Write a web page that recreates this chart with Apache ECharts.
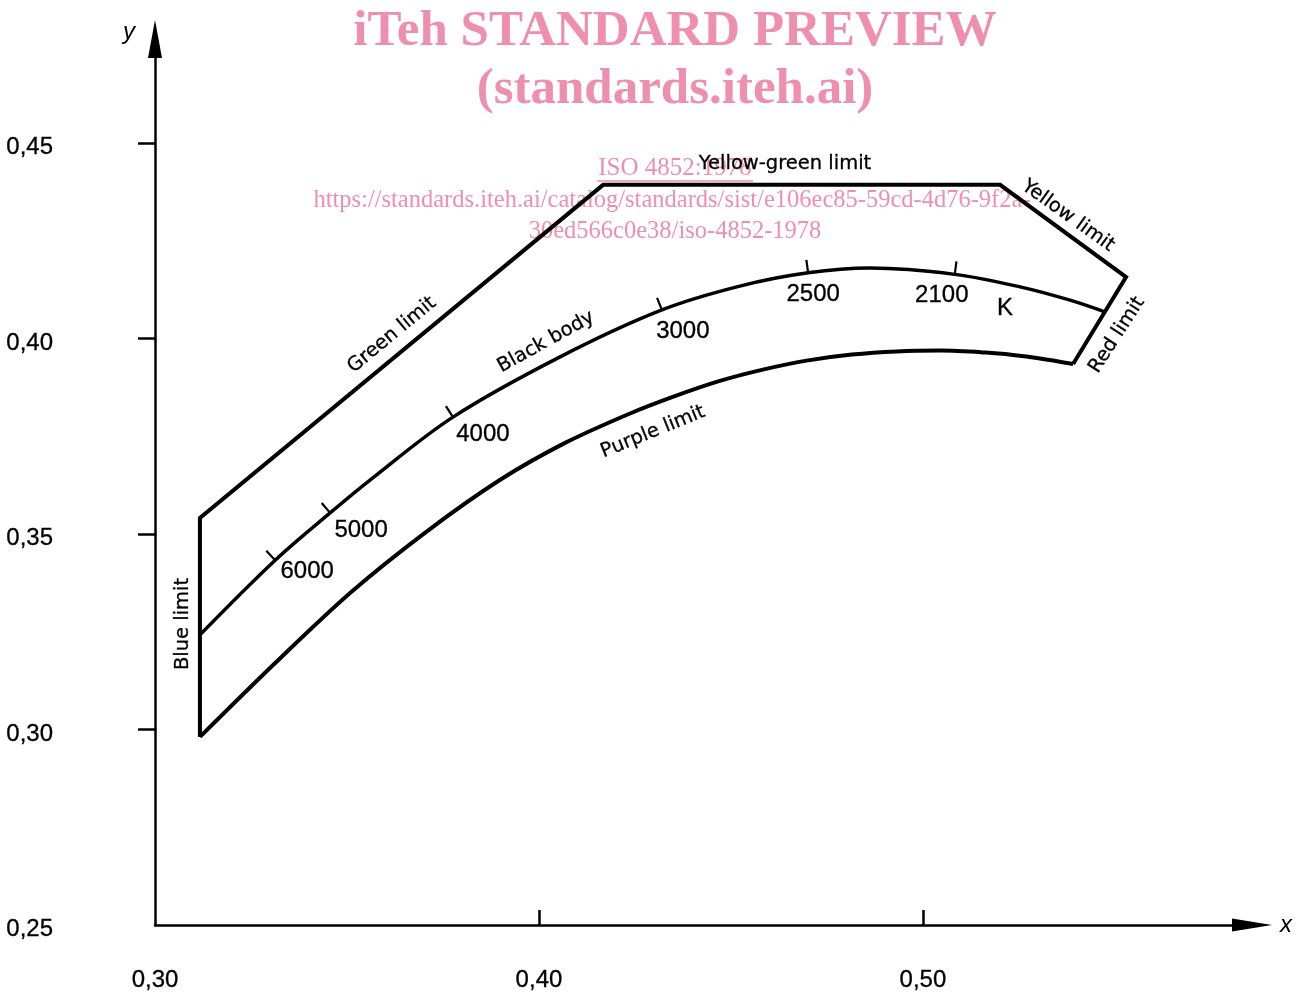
<!DOCTYPE html>
<html><head><meta charset="utf-8">
<script src="https://cdn.jsdelivr.net/npm/echarts@6/dist/echarts.min.js"></script>
<style>html,body{margin:0;padding:0;background:#fff}#c{width:1303px;height:992px}</style>
</head><body><div id="c"></div>
<script>
// ---- axis ticks / labels ----
const xLabelValues = [0.30, 0.40, 0.50];
const xTickValues = [0.40, 0.50];
const yLabelValues = [0.25, 0.30, 0.35, 0.40, 0.45];
const yTickValues = [0.30, 0.35, 0.40, 0.45];

// ---- straight limits: red -> yellow -> yellow-green -> green -> blue ----
const limitX = [0.5391, 0.5529, 0.5201, 0.4167, 0.3117, 0.3117];
const limitY = [0.3935, 0.4157, 0.4393, 0.4393, 0.3541, 0.2981];

// ---- purple limit (curve) ----
const purpleX = [0.3117, 0.3313, 0.3508, 0.3703, 0.3898, 0.4068, 0.4234, 0.4352, 0.4469, 0.4586, 0.4701, 0.4815, 0.4932, 0.5047, 0.5164, 0.5234, 0.5305, 0.5391];
const purpleY = [0.2981, 0.3170, 0.3349, 0.3503, 0.3638, 0.3733, 0.3807, 0.3852, 0.3891, 0.3921, 0.3944, 0.3959, 0.3967, 0.3969, 0.3964, 0.3958, 0.3949, 0.3935];

// ---- black body locus ----
const blackBodyX = [0.3117, 0.3313, 0.3456, 0.3560, 0.3776, 0.4055, 0.4320, 0.4523, 0.4701, 0.4862, 0.5083, 0.5253, 0.5383, 0.5474];
const blackBodyY = [0.3242, 0.3433, 0.3554, 0.3638, 0.3799, 0.3953, 0.4073, 0.4134, 0.4168, 0.4180, 0.4164, 0.4132, 0.4098, 0.4068];

// ---- colour temperatures on the locus ----
const tempK = [6000, 5000, 4000, 3000, 2500, 2100];
const tempX = [0.3313, 0.3456, 0.3776, 0.4320, 0.4701, 0.5083];
const tempY = [0.3433, 0.3554, 0.3799, 0.4073, 0.4168, 0.4164];

// layout (pixels) for temperature labels relative to their tick
const tempLabelOffset = [[32, 11], [31, 17], [30, 17], [21, 21], [5, 22], [-13, 21]];

const pair = (xs, ys) => xs.map((v, i) => [v, ys[i]]);
const fmt = v => v.toFixed(2).replace('.', ',');
const INK = '#000';
const PINK = '#ef8fae';
const deg = d => d * Math.PI / 180;

const limitLabels = [
  { text: 'Blue limit', x: 183, y: 624, r: 90 },
  { text: 'Green limit', x: 392, y: 335, r: 39.5 },
  { text: 'Black body', x: 546, y: 342, r: 29 },
  { text: 'Yellow-green limit', x: 785, y: 164, r: 0 },
  { text: 'Yellow limit', x: 1068, y: 216, r: -35.5 },
  { text: 'Red limit', x: 1117, y: 335, r: 57 },
  { text: 'Purple limit', x: 653, y: 432, r: 22 }
];

const graphics = [];
// watermark
graphics.push({ type: 'text', x: 675, y: 32, z: 1, style: { text: 'iTeh STANDARD PREVIEW', fill: PINK, fontFamily: '"Liberation Serif"', fontWeight: 'bold', fontSize: 51, align: 'center', verticalAlign: 'middle' } });
graphics.push({ type: 'text', x: 675, y: 90, z: 1, style: { text: '(standards.iteh.ai)', fill: PINK, fontFamily: '"Liberation Serif"', fontWeight: 'bold', fontSize: 51, align: 'center', verticalAlign: 'middle' } });
graphics.push({ type: 'text', x: 675, y: 168, z: 1, style: { text: 'ISO 4852:1978', fill: PINK, fontFamily: '"Liberation Serif"', fontSize: 25, align: 'center', verticalAlign: 'middle' } });
graphics.push({ type: 'line', z: 1, shape: { x1: 597, y1: 181, x2: 753, y2: 181 }, style: { stroke: PINK, lineWidth: 1.5 } });
graphics.push({ type: 'text', x: 672, y: 201, z: 1, style: { text: 'https://standards.iteh.ai/catalog/standards/sist/e106ec85-59cd-4d76-9f2a-', fill: PINK, fontFamily: '"Liberation Serif"', fontSize: 24.5, align: 'center', verticalAlign: 'middle' } });
graphics.push({ type: 'text', x: 675, y: 232, z: 1, style: { text: '30ed566c0e38/iso-4852-1978', fill: PINK, fontFamily: '"Liberation Serif"', fontSize: 24.5, align: 'center', verticalAlign: 'middle' } });
// limit labels
limitLabels.forEach(l => graphics.push({
  type: 'text', x: l.x, y: l.y, rotation: deg(l.r), z: 10,
  style: { text: l.text, fill: INK, fontFamily: '"DejaVu Sans"', fontSize: 19.5, align: 'center', verticalAlign: 'middle', stroke: INK, lineWidth: 0.3 }
}));
graphics.push({ type: 'text', x: 1005, y: 308, z: 10, style: { text: 'K', fill: INK, fontFamily: '"Liberation Sans"', fontSize: 24, align: 'center', verticalAlign: 'middle', stroke: INK, lineWidth: 0.3 } });

const chart = echarts.init(document.getElementById('c'));
chart.setOption({
  animation: false,
  backgroundColor: '#fff',
  grid: { left: 155, right: 51, top: 39, bottom: 67, outerBoundsMode: 'none', containLabel: false },
  xAxis: {
    type: 'value', min: 0.30, max: 0.5857,
    name: 'x', nameLocation: 'end', nameGap: 28,
    nameTextStyle: { fontFamily: '"Liberation Sans"', fontStyle: 'italic', fontSize: 24, color: INK, verticalAlign: 'middle' },
    axisLine: { show: true, symbol: ['none', 'triangle'], symbolSize: [13, 40], lineStyle: { color: INK, width: 2.5 } },
    axisTick: { show: true, inside: true, length: 15, customValues: xTickValues, lineStyle: { color: INK, width: 2.5 } },
    axisLabel: { show: true, customValues: xLabelValues, formatter: fmt, margin: 43, color: INK, fontFamily: '"Liberation Sans"', fontSize: 24, textBorderColor: INK, textBorderWidth: 0.3 },
    splitLine: { show: false }
  },
  yAxis: {
    type: 'value', min: 0.25, max: 0.4766,
    name: 'y', nameLocation: 'end', nameGap: 7,
    nameTextStyle: { fontFamily: '"Liberation Sans"', fontStyle: 'italic', fontSize: 24, color: INK, align: 'right', verticalAlign: 'middle', padding: [0, 20, 0, 0] },
    axisLine: { show: true, symbol: ['none', 'triangle'], symbolSize: [14, 38], lineStyle: { color: INK, width: 2.5 } },
    axisTick: { show: true, inside: false, length: 17, customValues: yTickValues, lineStyle: { color: INK, width: 2.5 } },
    axisLabel: { show: true, customValues: yLabelValues, formatter: fmt, margin: 102, color: INK, fontFamily: '"Liberation Sans"', fontSize: 24, verticalAlign: 'top', lineHeight: 9, textBorderColor: INK, textBorderWidth: 0.3 },
    splitLine: { show: false }
  },
  graphic: graphics,
  series: [
    { name: 'Limits', type: 'line', data: pair(limitX, limitY), symbol: 'none', z: 5,
      lineStyle: { color: INK, width: 4, join: 'miter' } },
    { name: 'Purple limit', type: 'line', data: pair(purpleX, purpleY), symbol: 'none', smooth: 0.3, z: 5,
      lineStyle: { color: INK, width: 4 } },
    { name: 'Black body', type: 'line', data: pair(blackBodyX, blackBodyY), symbol: 'none', smooth: 0.35, z: 5,
      lineStyle: { color: INK, width: 3.5 } },
    { name: 'Temperatures', type: 'custom', coordinateSystem: 'cartesian2d', z: 6,
      data: tempK.map((k, i) => [tempX[i], tempY[i], k]),
      encode: { x: 0, y: 1 },
      renderItem: function (params, api) {
        const i = params.dataIndex;
        const x = api.value(0), y = api.value(1);
        const p = api.coord([x, y]);
        let k = 0, best = Infinity;
        blackBodyX.forEach((bx, j) => { const d = Math.abs(bx - x); if (d < best) { best = d; k = j; } });
        const a = api.coord([blackBodyX[Math.max(k - 1, 0)], blackBodyY[Math.max(k - 1, 0)]]);
        const b = api.coord([blackBodyX[Math.min(k + 1, blackBodyX.length - 1)], blackBodyY[Math.min(k + 1, blackBodyX.length - 1)]]);
        let tx = b[0] - a[0], ty = b[1] - a[1];
        const L = Math.hypot(tx, ty); tx /= L; ty /= L;
        const nx = ty, ny = -tx;
        const off = tempLabelOffset[i];
        return { type: 'group', children: [
          { type: 'line', shape: { x1: p[0] - nx, y1: p[1] - ny, x2: p[0] + nx * 13, y2: p[1] + ny * 13 }, style: { stroke: INK, lineWidth: 2.2 } },
          { type: 'text', x: p[0] + off[0], y: p[1] + off[1], style: { text: String(api.value(2)), fill: INK, fontFamily: '"Liberation Sans"', fontSize: 24, align: 'center', verticalAlign: 'middle', stroke: INK, lineWidth: 0.3 } }
        ] };
      }
    }
  ]
});
</script>
</body></html>
